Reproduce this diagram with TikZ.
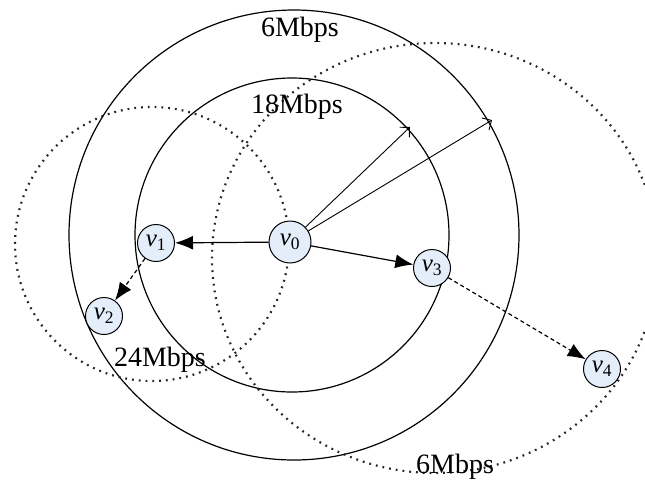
\documentclass[tikz,border=0pt]{standalone}
\usepackage{fontspec}
\setmainfont{Liberation Serif}
\usetikzlibrary{arrows.meta}
\definecolor{nodeblue}{RGB}{228,238,250}
\tikzset{
  station/.style={circle, draw, fill=nodeblue, line width=1pt, minimum size=37pt, inner sep=0pt, font=\fontsize{25}{25}\selectfont},
  ratelabel/.style={font=\fontsize{28}{28}\selectfont},
  dots/.style={line width=2.2pt, dash pattern=on 1.8pt off 5pt, black!85},
  hop/.style={-{Latex[length=18pt,width=14pt]}},
  reach/.style={-{Straight Barb[length=7pt,width=14pt]}, line width=.9pt}
}
\newcommand{\vlab}[1]{\textit{v}\textsubscript{\upshape#1}}

\begin{document}
\begin{tikzpicture}[x=1pt,y=-1pt,line width=1.2pt]
\useasboundingbox (0,0) rectangle (645,483);
\clip (0,0) rectangle (645,483);
% transmission ranges of v0 (solid) and of v1, v3 (dotted)
\draw (294,235) circle (225pt);
\draw (292,235) circle (157pt);
\draw[dots] (152,244) circle (137pt);
\draw[dots] (435,258) ellipse (223pt and 215pt);

\node[station, minimum size=42pt] (v0) at (290,242) {\vlab{0}};
\node[station] (v1) at (156,243) {\vlab{1}};
\node[station] (v2) at (104,316) {\vlab{2}};
\node[station] (v3) at (432,268) {\vlab{3}};
\node[station] (v4) at (602,369) {\vlab{4}};

\node[ratelabel] (r6a) at (300,30) {6Mbps};
\node[ratelabel] (r18) at (297,107) {18Mbps};
\node[ratelabel] (r24) at (160,360) {24Mbps};
\node[ratelabel] (r6b) at (455,467) {6Mbps};

\coordinate (t18) at (410,127);
\coordinate (t6) at (492,120);

\draw[hop] (v0) -- (v1);
\draw[hop] (v0) -- (v3);
\draw[hop, dash pattern=on 4pt off 3pt] (v1) -- (v2);
\draw[hop, dash pattern=on 4pt off 3pt] (v3) -- (v4);
\draw[reach] (v0) -- (t18);
\draw[reach] (v0) -- (t6);

\end{tikzpicture}
\end{document}
